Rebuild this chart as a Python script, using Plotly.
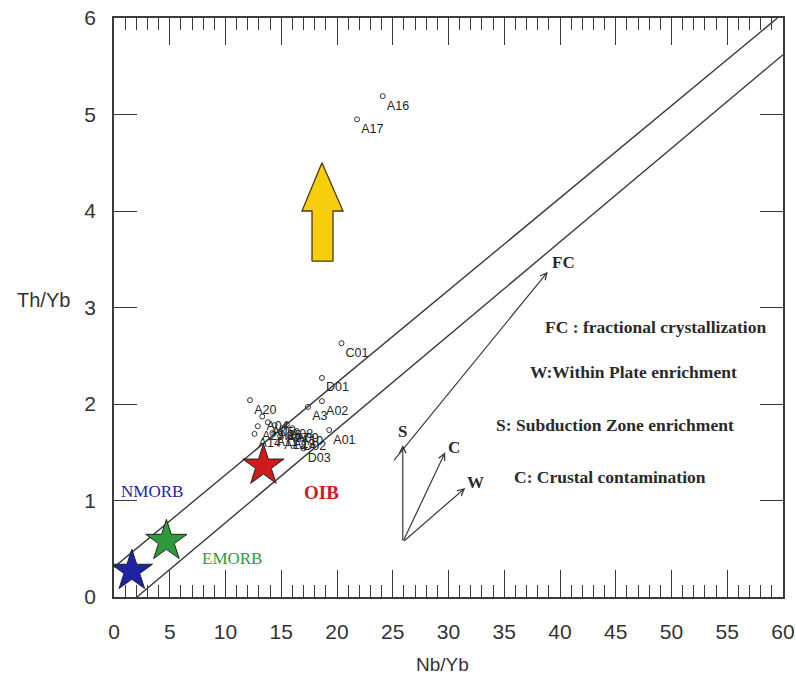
import plotly.graph_objects as go

# Sample ratios (Nb/Yb, Th/Yb)
sample_names = ["A16", "A17", "C01", "D01", "A02", "A3", "A01", "D02", "D03", "A20", "A23.1",
                "A04", "A05", "A06", "A07", "A08", "A09", "A10", "A11", "A12", "A13", "A14"]
nb_yb = [24.1, 21.8, 20.4, 18.65, 18.65, 17.4, 19.3, 16.6, 17.0, 12.2, 12.9,
         13.3, 13.8, 14.4, 15.1, 15.5, 16.0, 16.4, 14.2, 14.9, 15.7, 12.6]
th_yb = [5.19, 4.95, 2.63, 2.27, 2.03, 1.97, 1.73, 1.66, 1.54, 2.04, 1.77,
         1.87, 1.81, 1.78, 1.75, 1.79, 1.75, 1.72, 1.70, 1.67, 1.68, 1.69]

# Reference mantle compositions
ref_names = ["NMORB", "EMORB", "OIB"]
ref_nb_yb = [1.6, 4.7, 13.4]
ref_th_yb = [0.27, 0.58, 1.36]
ref_colors = ["#1c23a6", "#2f9a3c", "#cf1b1b"]

# Mantle array boundaries
upper_x = [0, 59.5]
upper_y = [0.31, 6.0]
lower_x = [2.06, 60]
lower_y = [0.0, 5.62]

# Enrichment arrow outline
up_arrow_x = [17.76, 19.64, 19.64, 20.54, 18.65, 16.86, 17.76, 17.76]
up_arrow_y = [3.48, 3.48, 4.0, 4.0, 4.50, 4.0, 4.0, 3.48]

# Process vectors: (label, x0, y0, x1, y1)
fc_vector = ("FC", 25.0, 1.40, 38.9, 3.37)
vectors = [("S", 25.9, 0.57, 25.9, 1.575),
           ("C", 25.9, 0.57, 29.7, 1.50),
           ("W", 25.9, 0.57, 31.5, 1.13)]

legend_lines = [("FC : fractional crystallization", 48.6, 2.80),
                ("W:Within Plate enrichment", 46.6, 2.33),
                ("S: Subduction Zone enrichment", 44.9, 1.78),
                ("C: Crustal contamination", 44.5, 1.24)]

line_color = "#3a3a3a"
text_color = "#2a2a2a"
serif = "Liberation Serif, Times New Roman, serif"
sans = "Liberation Sans, Arial, sans-serif"

fig = go.Figure()

fig.add_trace(go.Scatter(x=upper_x, y=upper_y, mode="lines",
                         line=dict(color=line_color, width=1.4), hoverinfo="skip"))
fig.add_trace(go.Scatter(x=lower_x, y=lower_y, mode="lines",
                         line=dict(color=line_color, width=1.4), hoverinfo="skip"))

fig.add_trace(go.Scatter(x=up_arrow_x, y=up_arrow_y, mode="lines", fill="toself",
                         fillcolor="#f7cd0c", line=dict(color="#4a3a10", width=1.3),
                         hoverinfo="skip"))

fig.add_trace(go.Scatter(x=nb_yb, y=th_yb, mode="markers+text", text=sample_names,
                         textposition="bottom right",
                         textfont=dict(family=sans, size=12.5, color="#262626"),
                         marker=dict(symbol="circle-open", size=5, color="#333333",
                                     line=dict(width=1)),
                         hoverinfo="skip"))

fig.add_trace(go.Scatter(x=ref_nb_yb, y=ref_th_yb, mode="markers",
                         marker=dict(symbol="star", size=31, color=ref_colors,
                                     line=dict(color="#222222", width=1)),
                         hoverinfo="skip"))

annotations = []

def vector_annotation(x0, y0, x1, y1):
    return dict(x=x1, y=y1, ax=x0, ay=y0, xref="x", yref="y", axref="x", ayref="y",
                showarrow=True, arrowhead=5, arrowsize=1.1, arrowwidth=1.2,
                arrowcolor=line_color, text="")

annotations.append(vector_annotation(*fc_vector[1:]))
annotations.append(dict(x=fc_vector[3] + 0.2, y=fc_vector[4] + 0.1, xref="x", yref="y",
                        text="<b>FC</b>", showarrow=False, xanchor="left",
                        font=dict(family=serif, size=17, color=text_color)))

label_offsets = {"S": (0.0, 0.14), "C": (0.75, 0.05), "W": (0.95, 0.06)}
for name, x0, y0, x1, y1 in vectors:
    annotations.append(vector_annotation(x0, y0, x1, y1))
    dx, dy = label_offsets[name]
    annotations.append(dict(x=x1 + dx, y=y1 + dy, xref="x", yref="y", text=f"<b>{name}</b>",
                            showarrow=False,
                            font=dict(family=serif, size=17, color=text_color)))

for txt, x, y in legend_lines:
    annotations.append(dict(x=x, y=y, xref="x", yref="y", text=f"<b>{txt}</b>",
                            showarrow=False, font=dict(family=serif, size=17.5, color=text_color)))

annotations.append(dict(x=3.4, y=1.09, xref="x", yref="y", text="NMORB", showarrow=False,
                        font=dict(family=serif, size=17, color=ref_colors[0])))
annotations.append(dict(x=10.6, y=0.40, xref="x", yref="y", text="EMORB", showarrow=False,
                        font=dict(family=serif, size=17, color=ref_colors[1])))
annotations.append(dict(x=18.65, y=1.08, xref="x", yref="y", text="<b>OIB</b>", showarrow=False,
                        font=dict(family=serif, size=19, color=ref_colors[2])))

annotations.append(dict(x=-0.105, y=3.08, xref="paper", yref="y", text="Th/Yb",
                        xanchor="center", yanchor="middle", showarrow=False,
                        font=dict(family=sans, size=20, color="#333333")))
annotations.append(dict(x=29.5, y=-0.116, xref="x", yref="paper", text="Nb/Yb",
                        xanchor="center", yanchor="middle", showarrow=False,
                        font=dict(family=sans, size=19, color="#333333")))

fig.update_layout(
    width=796, height=681,
    margin=dict(l=114, r=13, t=18, b=84),
    paper_bgcolor="white", plot_bgcolor="white",
    showlegend=False,
    annotations=annotations,
    xaxis=dict(range=[0, 60], dtick=5, tick0=0, ticks="inside", ticklen=27, tickwidth=1.4,
               tickcolor=line_color, mirror="ticks", showline=True, linecolor=line_color,
               linewidth=1.6, showgrid=False, zeroline=False, ticklabelstandoff=15,
               automargin=False,
               tickfont=dict(family=sans, size=21, color="#333333"),
               minor=dict(dtick=1, ticks="inside", ticklen=12, tickwidth=1.3,
                          tickcolor=line_color, showgrid=False)),
    yaxis=dict(range=[0, 6], dtick=1, tick0=0, ticks="inside", ticklen=23, tickwidth=1.4,
               tickcolor=line_color, mirror="ticks", showline=True, linecolor=line_color,
               linewidth=1.6, showgrid=False, zeroline=False, ticklabelstandoff=12,
               automargin=False,
               tickfont=dict(family=sans, size=21, color="#333333")),
)

fig.write_html("out.html")
